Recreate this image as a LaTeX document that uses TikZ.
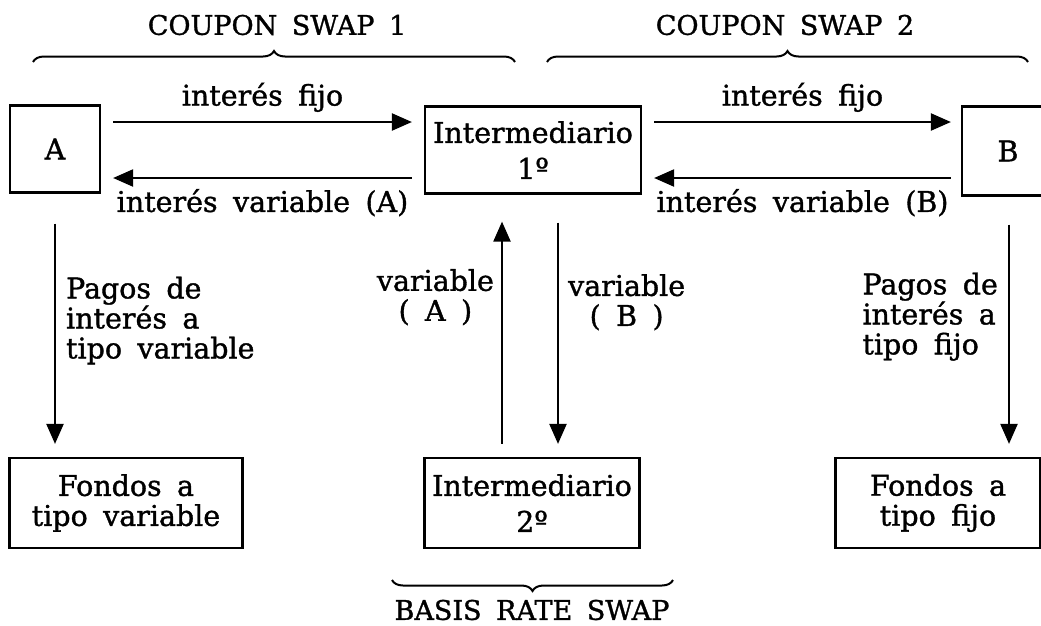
\documentclass[tikz,border=0pt]{standalone}
\usepackage{fontspec}
\setmainfont[WordSpace=1.7,FakeBold=1.2]{DejaVu Serif}
\usetikzlibrary{arrows.meta,decorations.pathreplacing,calc}

\begin{document}
\begin{tikzpicture}[x=1pt,y=-1pt,
  every node/.style={font=\fontsize{28.5}{30}\selectfont},
  title/.style={font=\fontsize{27}{29}\selectfont},
  box/.style={draw,line width=2.2pt,inner sep=0pt,align=center},
  lbl/.style={inner sep=0pt},
  arr/.style={line width=2.2pt,-{Triangle[length=20pt,width=17pt]}},
  brace/.style={line width=2pt,decorate,decoration={brace,amplitude=11pt,aspect=0.5}}]

\useasboundingbox (0,0) rectangle (1041,625);

% parties and intermediaries
\node[box,minimum width=90,minimum height=87] (A) at (55,149) {A};
\node[box,minimum width=216,minimum height=87] (I1) at (533,150) {Intermediario\\[6pt]1º};
\node[box,minimum width=92,minimum height=89] (B) at (1008,151) {B};
\node[box,minimum width=233,minimum height=90] (FV) at (126,503) {Fondos a\\tipo variable};
\node[box,minimum width=215,minimum height=90] (I2) at (532,503) {Intermediario\\[6pt]2º};
\node[box,minimum width=205,minimum height=90] (FF) at (938,503) {Fondos a\\tipo fijo};

% coupon swap 1
\draw[arr] ($(A.east)+(12,-27)$) -- ($(I1.west)+(-12,-28)$)
  node[lbl,midway,above=9pt] {interés fijo};
\draw[arr] ($(I1.west)+(-12,28)$) -- ($(A.east)+(12,29)$)
  node[lbl,midway,below=10pt] {interés variable (A)};

% coupon swap 2
\draw[arr] ($(I1.east)+(12,-28)$) -- ($(B.west)+(-10,-29)$)
  node[lbl,midway,above=9pt] {interés fijo};
\draw[arr] ($(B.west)+(-10,27)$) -- ($(I1.east)+(12,28)$)
  node[lbl,midway,below=10pt] {interés variable (B)};

% payments to the funds
\draw[arr] ($(A.south)+(0,30)$) -- ($(A.south |- FV.north)+(0,-13)$)
  node[lbl,pos=0.44,right=10pt,align=left] {Pagos de\\interés a\\tipo variable};
\draw[arr] ($(B.south)+(1,28)$) -- ($(B.south |- FF.north)+(1,-13)$)
  node[lbl,pos=0.42,left=10pt,align=left] {Pagos de\\interés a\\tipo fijo};

% basis rate swap
\draw[arr] ($(I1.south |- I2.north)+(-31,-13)$) -- ($(I1.south)+(-31,27)$)
  node[lbl,pos=0.66,left=7pt,align=center] {variable\\( A )};
\draw[arr] ($(I1.south)+(25,28)$) -- ($(I1.south |- I2.north)+(25,-13)$)
  node[lbl,pos=0.36,right=9pt,align=center] {variable\\( B )};

% swap brackets
\coordinate (b1l) at (33,62);
\coordinate (b1r) at (515,62);
\coordinate (b2l) at (547,62);
\coordinate (b2r) at (1028,62);
\coordinate (b3l) at (392,580);
\coordinate (b3r) at (673,580);
\draw[brace] (b1l) -- (b1r);
\draw[brace] (b2l) -- (b2r);
\draw[brace] (b3r) -- (b3l);
\node[title] (t1) at (277,25) {COUPON SWAP 1};
\node[title] (t2) at (785,25) {COUPON SWAP 2};
\node[title] (t3) at (532,610) {BASIS RATE SWAP};
\end{tikzpicture}
\end{document}
